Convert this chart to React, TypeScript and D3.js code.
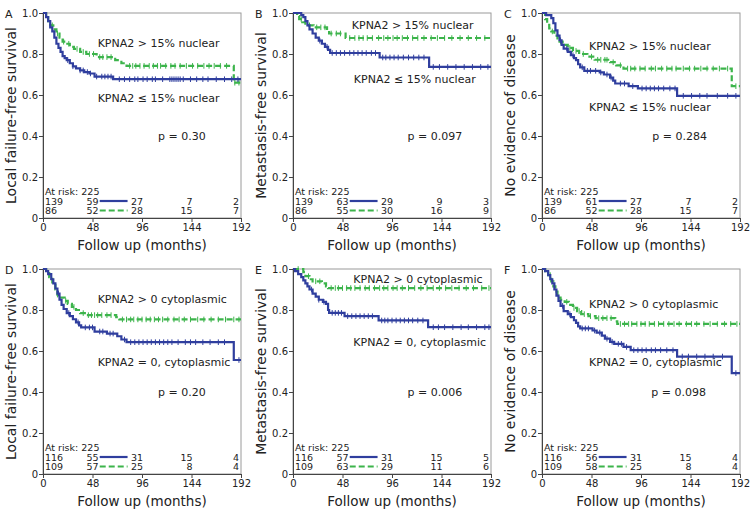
import { useEffect, useRef } from "react";
import * as d3 from "d3";

type Step = [number, number];

const MONTH_TICKS = [0, 48, 96, 144, 192];
const SURV_TICKS = [0, 0.2, 0.4, 0.6, 0.8, 1.0];

const PANEL_LETTERS = ["A", "B", "C", "D", "E", "F"];
const Y_TITLES = [
  "Local failure-free survival",
  "Metastasis-free survival",
  "No evidence of disease",
  "Local failure-free survival",
  "Metastasis-free survival",
  "No evidence of disease",
];
const HIGH_LABELS = [
  "KPNA2 > 15% nuclear",
  "KPNA2 > 15% nuclear",
  "KPNA2 > 15% nuclear",
  "KPNA2 > 0 cytoplasmic",
  "KPNA2 > 0 cytoplasmic",
  "KPNA2 > 0 cytoplasmic",
];
const LOW_LABELS = [
  "KPNA2 ≤ 15% nuclear",
  "KPNA2 ≤ 15% nuclear",
  "KPNA2 ≤ 15% nuclear",
  "KPNA2 = 0, cytoplasmic",
  "KPNA2 = 0, cytoplasmic",
  "KPNA2 = 0, cytoplasmic",
];
const P_VALUES = ["p = 0.30", "p = 0.097", "p = 0.284", "p = 0.20", "p = 0.006", "p = 0.098"];
const AT_RISK_TOTAL = [225, 225, 225, 225, 225, 225];
const LOW_AT_RISK = [
  [139, 59, 27, 7, 2],
  [139, 63, 29, 9, 3],
  [139, 61, 27, 7, 2],
  [116, 55, 31, 15, 4],
  [116, 57, 31, 15, 5],
  [116, 56, 31, 15, 4],
];
const HIGH_AT_RISK = [
  [86, 52, 28, 15, 7],
  [86, 55, 30, 16, 9],
  [86, 52, 28, 15, 7],
  [109, 57, 25, 8, 4],
  [109, 63, 29, 11, 6],
  [109, 58, 25, 8, 4],
];

// step curves: [month, survival after the drop]
const aLow: Step[] = [[0, 1], [3, 0.98], [5, 0.96], [7, 0.93], [9, 0.91], [11, 0.88], [13, 0.85], [15, 0.83], [17, 0.81], [19, 0.79], [21, 0.78], [23, 0.77], [26, 0.755], [29, 0.74], [32, 0.73], [36, 0.72], [40, 0.712], [45, 0.705], [50, 0.69], [68, 0.677]];
const aHigh: Step[] = [[0, 1], [3, 0.98], [5, 0.96], [7, 0.94], [10, 0.92], [13, 0.9], [16, 0.88], [19, 0.86], [22, 0.85], [26, 0.835], [30, 0.825], [36, 0.81], [42, 0.8], [52, 0.785], [70, 0.77], [76, 0.755], [81, 0.742], [185, 0.66]];
const bLow: Step[] = [[0, 1], [8, 0.99], [10, 0.98], [12, 0.96], [14, 0.94], [16, 0.92], [19, 0.9], [22, 0.88], [25, 0.865], [28, 0.85], [31, 0.835], [34, 0.82], [36, 0.805], [84, 0.783], [132, 0.737]];
const bHigh: Step[] = [[0, 1], [4, 0.985], [6, 0.97], [9, 0.955], [12, 0.94], [20, 0.93], [33, 0.915], [35, 0.9], [51, 0.878]];
const cLow: Step[] = [[0, 1], [4, 0.99], [9, 0.975], [11, 0.95], [13, 0.915], [15, 0.89], [17, 0.867], [19, 0.845], [21, 0.826], [25, 0.81], [28, 0.794], [31, 0.78], [33, 0.77], [35, 0.75], [37, 0.735], [41, 0.718], [56, 0.71], [60, 0.7], [66, 0.685], [69, 0.67], [71, 0.656], [84, 0.643], [93, 0.632], [131, 0.596]];
const cHigh: Step[] = [[0, 1], [3, 0.97], [5, 0.95], [7, 0.925], [9, 0.91], [12, 0.89], [15, 0.87], [17, 0.86], [20, 0.845], [25, 0.83], [30, 0.815], [36, 0.8], [44, 0.787], [51, 0.772], [66, 0.76], [72, 0.745], [79, 0.729], [184, 0.643]];
const dLow: Step[] = [[0, 1], [3, 0.99], [5, 0.975], [8, 0.95], [10, 0.93], [12, 0.905], [14, 0.88], [16, 0.85], [18, 0.825], [20, 0.805], [23, 0.785], [26, 0.77], [29, 0.755], [32, 0.74], [35, 0.725], [37, 0.715], [50, 0.695], [62, 0.685], [72, 0.672], [76, 0.656], [81, 0.643], [185, 0.556]];
const dHigh: Step[] = [[0, 1], [3, 0.98], [6, 0.96], [9, 0.935], [12, 0.9], [14, 0.875], [17, 0.86], [21, 0.845], [24, 0.83], [28, 0.815], [32, 0.8], [36, 0.785], [42, 0.775], [71, 0.765], [74, 0.754]];
const eLow: Step[] = [[0, 1], [2, 0.99], [5, 0.975], [8, 0.96], [10, 0.945], [12, 0.93], [14, 0.915], [16, 0.9], [19, 0.88], [22, 0.865], [25, 0.85], [29, 0.84], [32, 0.83], [34, 0.8], [35, 0.786], [50, 0.77], [83, 0.749], [131, 0.716]];
const eHigh: Step[] = [[0, 1], [10, 0.985], [12, 0.965], [16, 0.95], [19, 0.94], [28, 0.93], [32, 0.915], [34, 0.907]];
const fLow: Step[] = [[0, 1], [3, 0.99], [6, 0.97], [8, 0.95], [10, 0.93], [12, 0.9], [14, 0.87], [16, 0.845], [18, 0.82], [21, 0.795], [25, 0.78], [28, 0.765], [31, 0.75], [33, 0.737], [35, 0.72], [37, 0.71], [49, 0.7], [53, 0.69], [58, 0.675], [61, 0.66], [66, 0.645], [70, 0.635], [79, 0.62], [86, 0.604], [131, 0.573], [184, 0.492]];
const fHigh: Step[] = [[0, 1], [3, 0.99], [6, 0.97], [9, 0.94], [11, 0.915], [13, 0.89], [15, 0.86], [18, 0.85], [22, 0.84], [26, 0.825], [30, 0.81], [34, 0.795], [38, 0.78], [45, 0.77], [52, 0.76], [71, 0.745], [73, 0.732]];

// censoring times (months)
const aLowCens = [24, 29, 36, 39, 43, 46, 52, 57, 60, 63, 66, 74, 79, 84, 89, 92, 97, 101, 106, 109, 116, 123, 125, 127, 129, 131, 133, 136, 143, 149, 155, 160, 168, 176, 183, 189];
const aHighCens = [9, 14, 20, 25, 33, 39, 45, 49, 55, 58, 62, 66, 84, 87, 90, 94, 98, 103, 107, 111, 114, 119, 124, 128, 133, 139, 145, 150, 156, 161, 166, 172, 178, 186, 190];
const bLowCens = [26, 33, 38, 42, 46, 50, 55, 59, 63, 67, 71, 76, 80, 87, 90, 94, 98, 102, 107, 112, 117, 122, 127, 136, 142, 150, 158, 166, 174, 182, 189];
const bHighCens = [8, 16, 23, 27, 31, 37, 42, 46, 55, 60, 64, 68, 72, 77, 83, 88, 92, 97, 101, 106, 111, 116, 121, 127, 134, 140, 147, 154, 162, 170, 178, 186];
const cLowCens = [18, 24, 30, 39, 44, 47, 52, 57, 63, 67, 76, 80, 88, 97, 101, 105, 109, 113, 118, 124, 129, 137, 145, 153, 160, 170, 180, 188];
const cHighCens = [10, 18, 27, 33, 40, 48, 54, 57, 61, 63, 69, 76, 83, 86, 90, 95, 100, 106, 110, 116, 121, 126, 130, 137, 143, 148, 154, 160, 166, 172, 180, 188];
const dLowCens = [15, 25, 34, 41, 45, 48, 55, 58, 65, 68, 79, 85, 89, 93, 97, 101, 105, 109, 113, 117, 121, 125, 131, 138, 143, 148, 155, 162, 170, 176, 190];
const dHighCens = [8, 14, 22, 30, 39, 44, 47, 50, 53, 57, 62, 66, 77, 81, 85, 88, 92, 96, 100, 104, 108, 112, 116, 121, 127, 132, 137, 143, 150, 156, 163, 170, 177, 185, 190];
const eLowCens = [18, 25, 30, 38, 41, 44, 47, 53, 57, 61, 65, 69, 73, 77, 86, 89, 92, 96, 100, 104, 108, 112, 116, 121, 126, 136, 141, 147, 155, 163, 170, 178, 186, 190];
const eHighCens = [5, 15, 22, 26, 37, 41, 44, 48, 52, 56, 60, 65, 70, 74, 79, 84, 88, 92, 97, 101, 106, 112, 118, 124, 130, 136, 142, 148, 154, 161, 168, 175, 183, 190];
const fLowCens = [20, 27, 39, 42, 45, 51, 56, 63, 68, 74, 77, 82, 89, 93, 97, 101, 106, 110, 115, 121, 127, 136, 142, 150, 158, 166, 175, 188];
const fHighCens = [8, 16, 24, 31, 36, 41, 47, 55, 59, 63, 67, 76, 80, 84, 87, 92, 96, 100, 104, 109, 113, 118, 123, 128, 133, 140, 145, 150, 157, 163, 170, 177, 183, 189];

const LOW_STEPS = [aLow, bLow, cLow, dLow, eLow, fLow];
const HIGH_STEPS = [aHigh, bHigh, cHigh, dHigh, eHigh, fHigh];
const LOW_CENS = [aLowCens, bLowCens, cLowCens, dLowCens, eLowCens, fLowCens];
const HIGH_CENS = [aHighCens, bHighCens, cHighCens, dHighCens, eHighCens, fHighCens];

// layout
const COL_X = [43, 293, 542];
const ROW_Y = [13, 269];
const PW = 198;
const PH = 205;
// annotation anchors in data units [month, survival]
const HIGH_POS: Step[] = [[53, 0.834], [57, 0.922], [45.6, 0.82], [53, 0.834], [58.5, 0.932], [45.6, 0.81]];
const LOW_POS: Step[] = [[53, 0.566], [59, 0.659], [45.6, 0.522], [53, 0.527], [58.5, 0.624], [45.6, 0.527]];
const P_POS: Step[] = [[111.5, 0.38], [111, 0.38], [107, 0.38], [111.5, 0.38], [111, 0.38], [106, 0.38]];

const BLUE = "#2f3e9e";
const GREEN = "#3cb44b";
const FONT = "'DejaVu Sans', Verdana, sans-serif";

function survAt(steps: Step[], t: number) {
  let v = 1;
  for (const [m, s] of steps) if (m <= t) v = s;
  return v;
}

export default function App() {
  const ref = useRef<SVGSVGElement | null>(null);

  useEffect(() => {
    if (!ref.current) return;
    const svg = d3.select(ref.current);
    svg.selectAll("*").remove();

    PANEL_LETTERS.forEach((letter, i) => {
      const x0 = COL_X[i % 3];
      const y0 = ROW_Y[Math.floor(i / 3)];
      const x = d3.scaleLinear().domain([0, 192]).range([0, PW]);
      const y = d3.scaleLinear().domain([0, 1]).range([PH, 0]);
      const g = svg.append("g").attr("transform", `translate(${x0},${y0})`);

      g.append("rect")
        .attr("width", PW)
        .attr("height", PH)
        .attr("fill", "none")
        .attr("stroke", "#9a9a9a")
        .attr("stroke-width", 1);

      const xAxis = g
        .append("g")
        .attr("transform", `translate(0,${PH})`)
        .call(d3.axisBottom(x).tickValues(MONTH_TICKS).tickSize(4).tickSizeOuter(0).tickPadding(2));
      const yAxis = g
        .append("g")
        .call(
          d3.axisLeft(y).tickValues(SURV_TICKS).tickFormat((d) => (d === 0 ? "0" : d3.format(".1f")(d as number))).tickSize(4).tickSizeOuter(0).tickPadding(1)
        );
      [xAxis, yAxis].forEach((ax) => {
        ax.selectAll("path").attr("stroke", "#444");
        ax.selectAll("line").attr("stroke", "#444");
        ax.selectAll("text").attr("font-family", FONT).attr("font-size", 10).attr("fill", "#222");
      });

      // curves
      const line = d3
        .line<Step>()
        .x((d) => x(d[0]))
        .y((d) => y(d[1]))
        .curve(d3.curveStepAfter);

      const series = [
        { steps: LOW_STEPS[i], cens: LOW_CENS[i], color: BLUE, dash: null },
        { steps: HIGH_STEPS[i], cens: HIGH_CENS[i], color: GREEN, dash: "6,3" },
      ];
      // draw green first, blue on top
      [series[1], series[0]].forEach((s) => {
        const last = s.steps[s.steps.length - 1];
        const pts: Step[] = [...s.steps, [192, last[1]]];
        g.append("path")
          .attr("d", line(pts))
          .attr("fill", "none")
          .attr("stroke", s.color)
          .attr("stroke-width", 2.2)
          .attr("stroke-dasharray", s.dash);
        g.append("g")
          .selectAll("line")
          .data(s.cens)
          .join("line")
          .attr("x1", (t) => x(t))
          .attr("x2", (t) => x(t))
          .attr("y1", (t) => y(survAt(s.steps, t)) - 2.8)
          .attr("y2", (t) => y(survAt(s.steps, t)) + 2.8)
          .attr("stroke", s.color)
          .attr("stroke-width", 1);
      });

      const txt = (tx: number, ty: number, s: string, size = 11, anchor = "start") =>
        g.append("text")
          .attr("x", tx)
          .attr("y", ty)
          .attr("font-family", FONT)
          .attr("font-size", size)
          .attr("fill", "#222")
          .attr("text-anchor", anchor)
          .text(s);

      txt(x(HIGH_POS[i][0]), y(HIGH_POS[i][1]), HIGH_LABELS[i]);
      txt(x(LOW_POS[i][0]), y(LOW_POS[i][1]), LOW_LABELS[i]);
      txt(x(P_POS[i][0]), y(P_POS[i][1]), P_VALUES[i]);

      // at-risk table
      txt(2, PH - 23.5, `At risk: ${AT_RISK_TOTAL[i]}`, 9.5);
      [LOW_AT_RISK[i], HIGH_AT_RISK[i]].forEach((row, r) => {
        const by = PH - 13.5 + r * 9.5;
        row.forEach((n, k) => {
          if (k === 0) txt(2, by, String(n), 9.5);
          else if (k === 1) txt(x(MONTH_TICKS[k]), by, String(n), 9.5, "middle");
          else txt(Math.min(x(MONTH_TICKS[k]) + 1, PW - 2), by, String(n), 9.5, "end");
        });
        g.append("line")
          .attr("x1", x(55))
          .attr("x2", x(82))
          .attr("y1", by - 3.5)
          .attr("y2", by - 3.5)
          .attr("stroke", r === 0 ? BLUE : GREEN)
          .attr("stroke-width", 2.2)
          .attr("stroke-dasharray", r === 0 ? null : "6,3");
      });

      // titles
      txt(PW / 2, PH + 32, "Follow up (months)", 13.5, "middle");
      g.append("text")
        .attr("transform", `translate(${-27},${PH / 2}) rotate(-90)`)
        .attr("font-family", FONT)
        .attr("font-size", 14)
        .attr("fill", "#222")
        .attr("text-anchor", "middle")
        .text(Y_TITLES[i]);
      txt(-38, 5, letter, 11);
    });
  }, []);

  return (
    <svg
      ref={ref}
      width={750}
      height={512}
      style={{ position: "absolute", left: 0, top: 0, background: "#fff" }}
    />
  );
}
